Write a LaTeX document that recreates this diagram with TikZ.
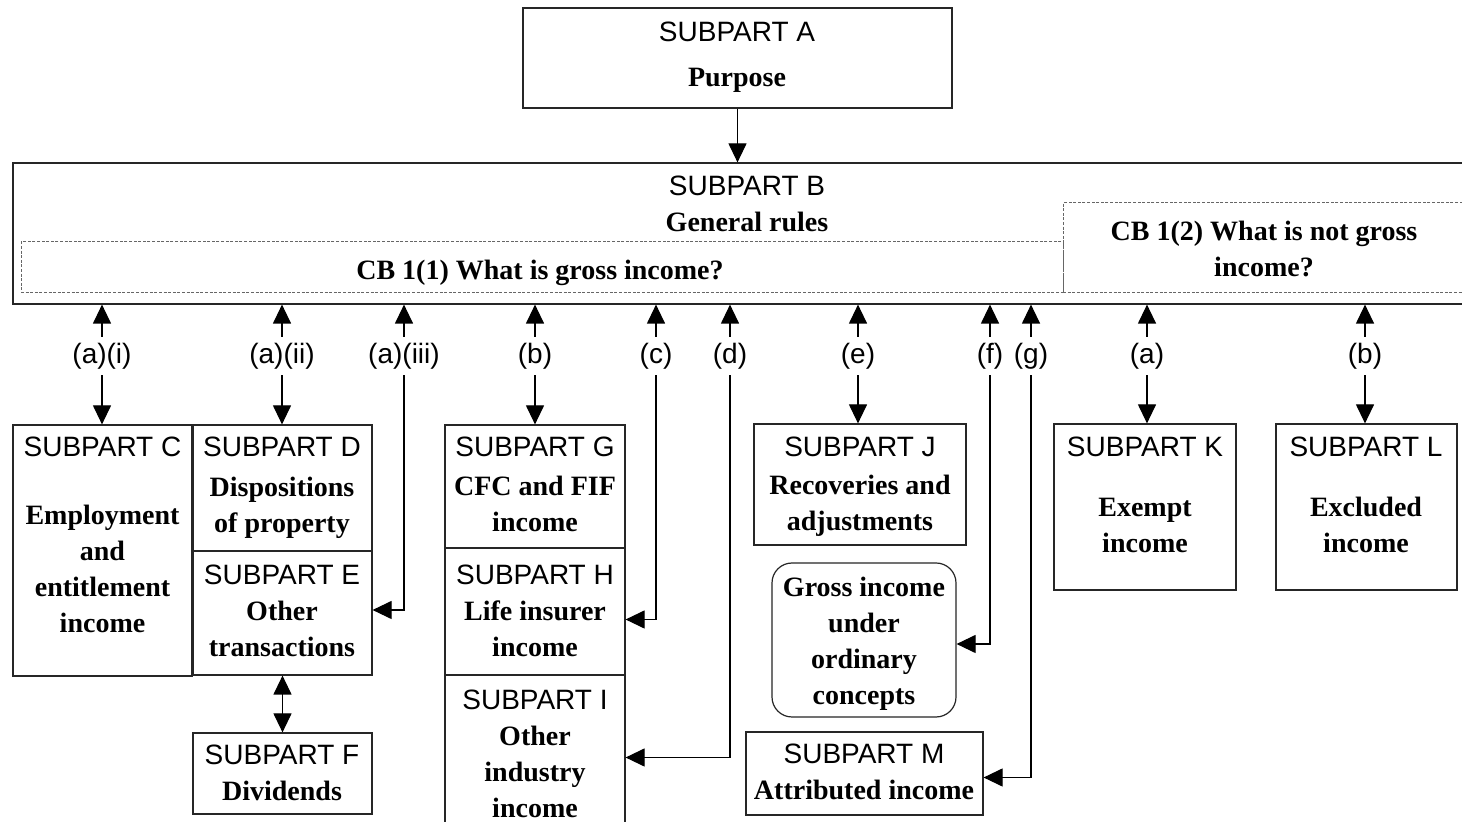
\documentclass[tikz,border=0pt]{standalone}
\usepackage{fontspec}
\setmainfont{Liberation Serif}
\newfontfamily\arialf{Liberation Sans}
\usetikzlibrary{arrows.meta,fit,calc}
\newcommand\subp[1]{{\arialf\mdseries #1}}
\tikzset{
 box/.style={draw=black!85, line width=0.6pt, inner sep=0pt},
 dbox/.style={draw=black!60, dash pattern=on 1.5pt off 0.8pt, line width=0.5pt, inner sep=0pt},
 txt/.style={anchor=north, inner sep=0pt, align=center, font=\fontsize{14}{18}\selectfont},
 lab/.style={inner sep=3pt, font=\arialf\fontsize{14}{18}\selectfont},
 arr/.style={line width=0.6pt, -{Triangle[length=9.5pt,width=9pt]}},
 arrd/.style={line width=0.6pt, {Triangle[length=9.5pt,width=9pt]}-{Triangle[length=9.5pt,width=9pt]}},
}
\begin{document}
\begin{tikzpicture}[x=0.5pt,y=-0.5pt]
\fill[white] (0,0) rectangle (1462,822);
\useasboundingbox (0,0) rectangle (1462,822);

% boxes
\node[box, fit={(523,8) (952,108)}] (A) {};
\node[box, fit={(13,163) (1480,304)}] (B) {};
\node[dbox, fit={(21,242) (1063,293)}] (CB1) {};
\node[dbox, fit={(1063,203) (1480,293)}] (CB2) {};
\node[box, fit={(13,425) (192,676)}] (C) {};
\node[box, fit={(193,425) (372,551)}] (D) {};
\node[box, fit={(193,551) (372,675)}] (E) {};
\node[box, fit={(193,733) (372,814)}] (F) {};
\node[box, fit={(445,425) (625,548)}] (G) {};
\node[box, fit={(445,548) (625,675)}] (H) {};
\node[box, fit={(445,675) (625,840)}] (I) {};
\node[box, fit={(754,424) (966,545)}] (J) {};
\node[box, rounded corners=10pt, fit={(772,563) (956,717)}] (Gr) {};
\node[box, fit={(746,732) (983,815)}] (M) {};
\node[box, fit={(1054,424) (1236,590)}] (K) {};
\node[box, fit={(1276,424) (1457,590)}] (L) {};

% texts
\node[txt] (At) at (737,22) {\subp{SUBPART A}\\[4.5pt]\textbf{Purpose}};
\node[txt] (Bt) at (747,176) {\subp{SUBPART B}\\\textbf{General rules}};
\node[txt] (CB1t) at (540,260) {\textbf{CB 1(1) What is gross income?}};
\node[txt] (CB2t) at (1264,221) {\textbf{CB 1(2) What is not gross}\\\textbf{income?}};
\node[txt] (Ct) at (102.5,437) {\subp{SUBPART C}\\[16pt]\textbf{Employment}\\\textbf{and}\\\textbf{entitlement}\\\textbf{income}};
\node[txt] (Dt) at (282,437) {\subp{SUBPART D}\\[2pt]\textbf{Dispositions}\\\textbf{of property}};
\node[txt] (Et) at (282,565) {\subp{SUBPART E}\\\textbf{Other}\\\textbf{transactions}};
\node[txt] (Ft) at (282,745) {\subp{SUBPART F}\\\textbf{Dividends}};
\node[txt] (Gt) at (535,437) {\subp{SUBPART G}\\[1.5pt]\textbf{CFC and FIF}\\\textbf{income}};
\node[txt] (Ht) at (535,565) {\subp{SUBPART H}\\\textbf{Life insurer}\\\textbf{income}};
\node[txt] (It) at (535,690) {\subp{SUBPART I}\\\textbf{Other}\\\textbf{industry}\\\textbf{income}};
\node[txt] (Jt) at (860,437) {\subp{SUBPART J}\\[1pt]\textbf{Recoveries and}\\\textbf{adjustments}};
\node[txt] (Grt) at (864,577) {\textbf{Gross income}\\\textbf{under}\\\textbf{ordinary}\\\textbf{concepts}};
\node[txt] (Mt) at (864,744) {\subp{SUBPART M}\\\textbf{Attributed income}};
\node[txt] (Kt) at (1145,437) {\subp{SUBPART K}\\[12pt]\textbf{Exempt}\\\textbf{income}};
\node[txt] (Lt) at (1366,437) {\subp{SUBPART L}\\[12pt]\textbf{Excluded}\\\textbf{income}};

% labels
\node[lab] (lai) at (102,356) {(a)(i)};
\node[lab] (laii) at (282,356) {(a)(ii)};
\node[lab] (laiii) at (404,356) {(a)(iii)};
\node[lab] (lb) at (535,356) {(b)};
\node[lab] (lc) at (656,356) {(c)};
\node[lab] (ld) at (730,356) {(d)};
\node[lab] (le) at (858,356) {(e)};
\node[lab] (lf) at (990,356) {(f)};
\node[lab] (lg) at (1031,356) {(g)};
\node[lab] (lka) at (1147,356) {(a)};
\node[lab] (llb) at (1365,356) {(b)};

% connectors
\draw[arr] (A.south) -- (A.south |- B.north);
\foreach \n in {lai,laii,laiii,lb,lc,ld,le,lf,lg,lka,llb}
  \draw[arr] (\n) -- (\n |- B.south);
\draw[arr] (lai) -- (lai |- C.north);
\draw[arr] (laii) -- (laii |- D.north);
\draw[arr] (lb) -- (lb |- G.north);
\draw[arr] (le) -- (le |- J.north);
\draw[arr] (lka) -- (lka |- K.north);
\draw[arr] (llb) -- (llb |- L.north);
\draw[arr] (laiii) |- ($(E.east)+(0,-3)$);
\draw[arr] (lc) |- ($(H.east)+(0,8)$);
\draw[arr] (ld) |- (I.east);
\draw[arr] (lf) |- ($(Gr.east)+(0,4)$);
\draw[arr] (lg) |- ($(M.east)+(0,4)$);
\draw[arrd] (E.south) -- (F.north);
\end{tikzpicture}
\end{document}
